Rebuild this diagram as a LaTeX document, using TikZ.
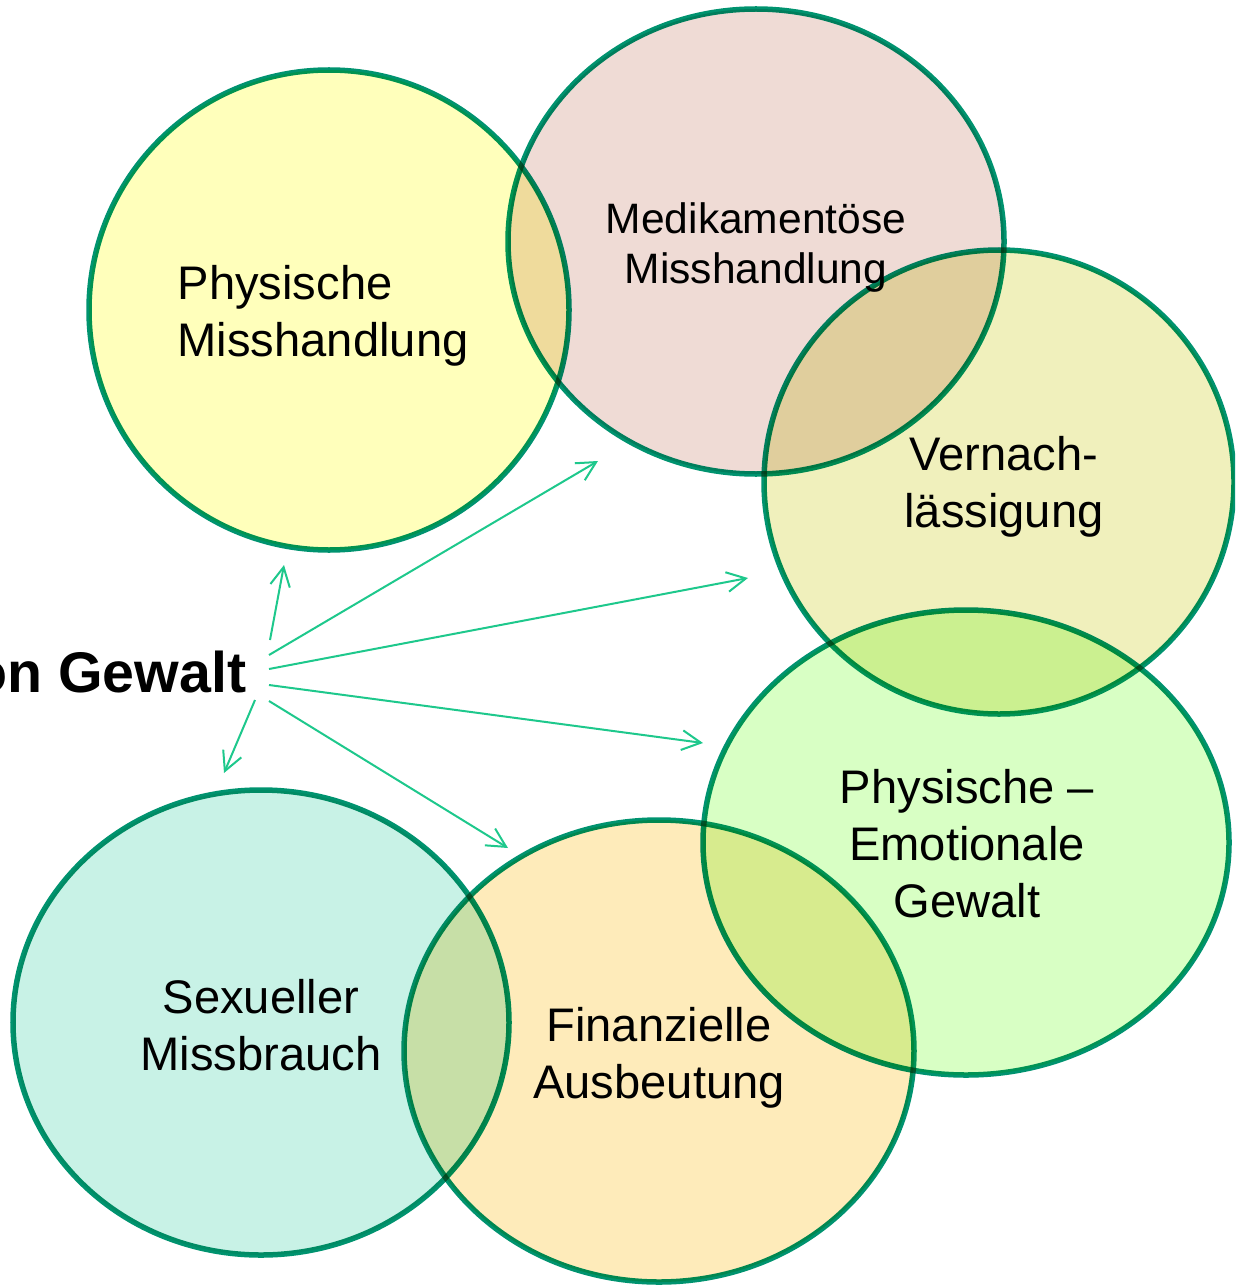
\documentclass[tikz,border=0pt]{standalone}
\usepackage{fontspec}
\setmainfont{Liberation Sans}
\usetikzlibrary{arrows.meta}

\definecolor{rand}{RGB}{0,147,111}
\definecolor{pfeilgruen}{RGB}{30,200,140}
\definecolor{gelb}{RGB}{255,255,187}
\definecolor{rosa}{RGB}{239,219,213}
\definecolor{oliv}{RGB}{240,240,188}
\definecolor{hellgruen}{RGB}{216,255,196}
\definecolor{tuerkis}{RGB}{200,242,230}
\definecolor{sand}{RGB}{254,235,186}

\tikzset{
  kreis/.style={draw=rand, line width=0.055cm},
  pfeil/.style={draw=pfeilgruen, line width=0.02cm,
    -{Straight Barb[length=5.4pt,width=5.6pt]}},
  txt/.style={font=\fontsize{13.4}{16.2}\selectfont, inner sep=0pt,
    align=center, anchor=base},
}

\begin{document}
\begin{tikzpicture}[x=0.01cm, y=-0.01cm]
\useasboundingbox (0,0) rectangle (1235,1285);
\clip (0,0) rectangle (1235,1285);

% overlapping circles, multiplied where they meet
\begin{scope}[blend mode=multiply]
  \draw[kreis, fill=gelb] (329,310) ellipse [x radius=240, y radius=240];
  \draw[kreis, fill=rosa] (756,241.5) ellipse [x radius=248, y radius=232.5];
  \draw[kreis, fill=oliv] (999,482) ellipse [x radius=235, y radius=232];
  \draw[kreis, fill=hellgruen] (966,842.5) ellipse [x radius=263, y radius=232.5];
  \draw[kreis, fill=tuerkis] (261,1022.5) ellipse [x radius=248, y radius=232.5];
  \draw[kreis, fill=sand] (659,1051) ellipse [x radius=255, y radius=231];
\end{scope}

% labels (placed at the baseline of their last line)
\node[txt, anchor=base west, align=left] (physisch) at (177,356) {Physische\\Misshandlung};
\node[txt, font=\fontsize{12.1}{14.2}\selectfont] (medikament) at (756,283) {Medikamentöse\\Misshandlung};
\node[txt] (vernach) at (1004,527) {Vernach-\\lässigung};
\node[txt] (emotional) at (967,917) {Physische --\\Emotionale\\Gewalt};
\node[txt] (sexuell) at (261,1070) {Sexueller\\Missbrauch};
\node[txt] (finanz) at (659,1098) {Finanzielle\\Ausbeutung};

\node[font=\bfseries\fontsize{16.3}{19}\selectfont, inner sep=0pt, anchor=base east]
  (gewalt) at (247,692) {on Gewalt};

% arrows fanning out from the title
\coordinate (s1) at (270,640);  \coordinate (z1) at (284,565);
\coordinate (s2) at (269,655);  \coordinate (z2) at (598,461);
\coordinate (s3) at (269,669);  \coordinate (z3) at (748,578);
\coordinate (s4) at (269,685);  \coordinate (z4) at (703,743);
\coordinate (s5) at (269,701);  \coordinate (z5) at (508,848);
\coordinate (s6) at (255,700);  \coordinate (z6) at (224,773);
\foreach \i in {1,...,6}
  \draw[pfeil] (s\i) -- (z\i);

\end{tikzpicture}
\end{document}
